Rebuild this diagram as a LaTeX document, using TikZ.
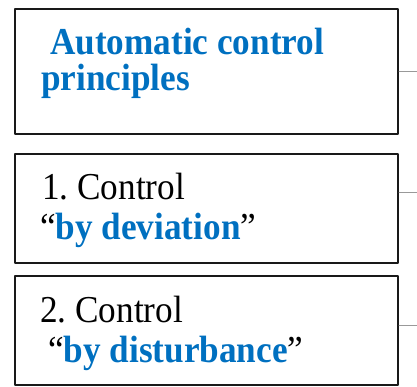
\documentclass[tikz,border=0pt]{standalone}
\usepackage{fontspec}
\setmainfont{Liberation Serif}
\usepackage{tikz}
\usetikzlibrary{positioning}
\definecolor{ctrlblue}{HTML}{0070C0}
\frenchspacing
\tikzset{
  prbox/.style={draw=black!90, line width=2.4pt, minimum width=383pt, inner sep=0pt},
  prtext/.style={anchor=base west, inner sep=0pt, font=\fontsize{35.2}{36}\selectfont},
  tick/.style={draw=black!40, line width=1pt}
}
\newcommand{\hl}[1]{\textcolor{ctrlblue}{\textbf{#1}}}
\newcommand{\tall}[1]{\scalebox{1}[1.08]{#1}}
\begin{document}
\begin{tikzpicture}[line cap=round,line join=round,x=1pt,y=-1pt]
\useasboundingbox (0,0) rectangle (417,387);
% boxes
\node[prbox, minimum height=125pt] (principles) at (206.5,71.5) {};
\node[prbox, minimum height=109pt] (deviation) at (206.5,208.5) {};
\node[prbox, minimum height=109pt] (disturbance) at (206.5,330.5) {};
% texts
\node[prtext] (t1a) at (50,55) {\tall{\hl{Automatic control}}};
\node[prtext] (t1b) at (41,91) {\tall{\hl{principles}}};
\node[prtext] (t2a) at (42,200) {\tall{1. Control}};
\node[prtext] (t2b) at (40,240) {\tall{“\hl{by deviation}”}};
\node[prtext] (t3a) at (40,322) {\tall{2. Control}};
\node[prtext] (t3b) at (48,362) {\tall{“\hl{by disturbance}”}};
% ticks to the right
\coordinate (out1) at (417,71.5);
\coordinate (out2) at (417,193);
\coordinate (out3) at (417,325);
\draw[tick] (principles.east) -- (out1);
\draw[tick] (deviation.east |- out2) -- (out2);
\draw[tick] (disturbance.east |- out3) -- (out3);
\end{tikzpicture}
\end{document}
